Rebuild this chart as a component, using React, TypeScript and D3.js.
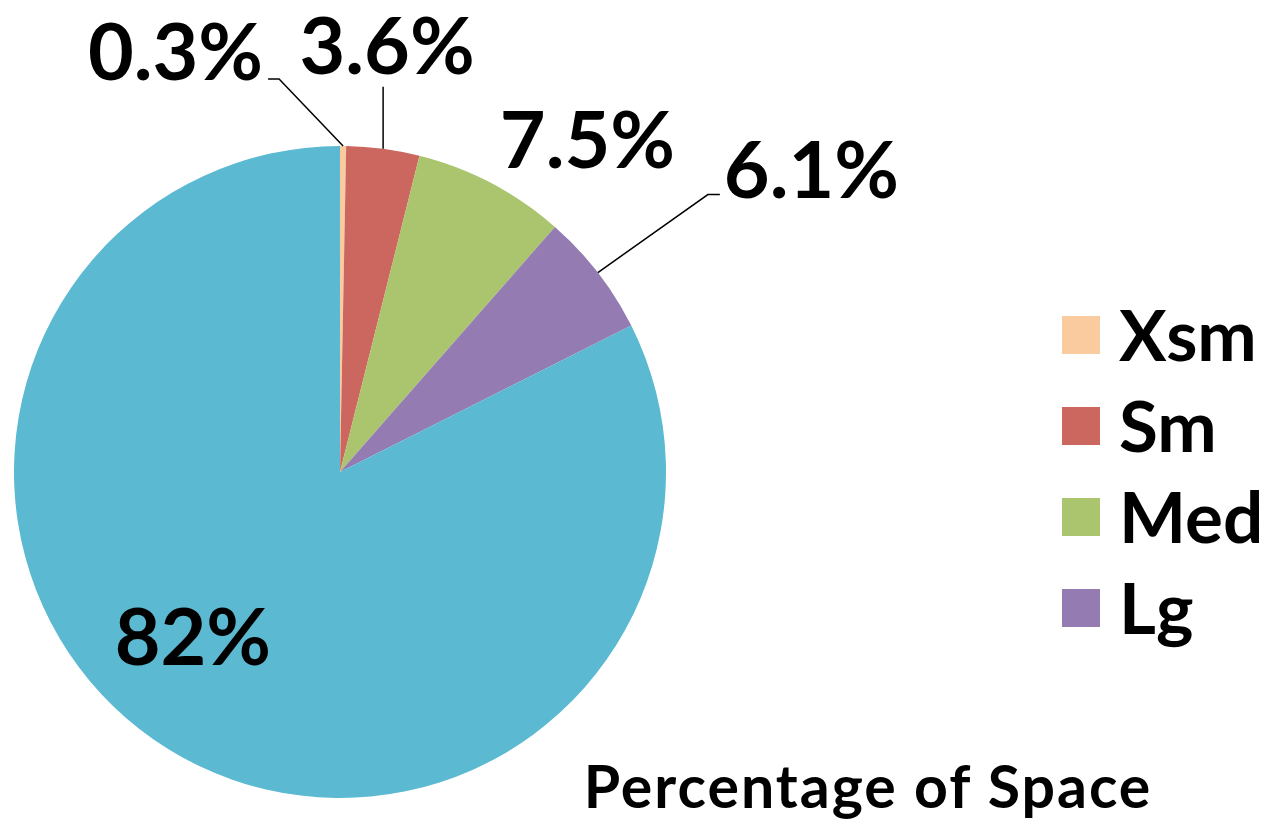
import React, { useEffect, useRef } from 'react';
import * as d3 from 'd3';

// chart data
const categories = ['Xsm', 'Sm', 'Med', 'Lg', 'Xlg'];
const shares = [0.3, 3.6, 7.5, 6.1, 82];
const shareLabels = ['0.3%', '3.6%', '7.5%', '6.1%', '82%'];
const sliceColors = ['#FACB9E', '#CC6760', '#ABC56E', '#947BB1', '#5BB9D2'];
const legendItems = ['Xsm', 'Sm', 'Med', 'Lg'];
const chartTitle = 'Percentage of Space';

const W = 1273;
const H = 822;
const FONT = "Lato, 'Open Sans', sans-serif";

// where each label sits relative to the outer edge point of its slice
// leader: offsets for the connector (none = no connector)
const labelLayout = [
  { dx: -80, dy: -66, anchor: 'end', leader: [[-64, -67], [-75, -67]] },
  { dx: 4, dy: -75, anchor: 'middle', leader: [[0, -62]] },
  { dx: 96, dy: -15, anchor: 'middle' },
  { dx: 126, dy: -75, anchor: 'start', leader: [[110, -78], [122, -78]] },
  { dx: 24, dy: -84, anchor: 'middle' },
];

const PieChart = () => {
  const svgRef = useRef(null);

  useEffect(() => {
    const svg = d3.select(svgRef.current);
    svg.selectAll('*').remove();

    const cx = 340;
    const cy = 472;
    const r = 326;

    const g = svg.append('g').attr('transform', `translate(${cx},${cy})`);

    const pie = d3.pie<number>().sort(null).value(d => d);
    const arcs = pie(shares);
    const arc = d3.arc<any>().innerRadius(0).outerRadius(r);

    g.selectAll('.slice')
      .data(arcs)
      .enter().append('path')
      .attr('class', 'slice')
      .attr('d', arc)
      .attr('fill', (d, i) => sliceColors[i]);

    // labels + leader lines
    arcs.forEach((a, i) => {
      const lay = labelLayout[i];
      const mid = (a.startAngle + a.endAngle) / 2;
      const edgeX = Math.sin(mid) * r;
      const edgeY = -Math.cos(mid) * r;

      if (lay.leader) {
        const pts = [[edgeX, edgeY], ...lay.leader.map(([ox, oy]) => [edgeX + ox, edgeY + oy])];
        g.append('path')
          .attr('d', d3.line()(pts as [number, number][]))
          .attr('fill', 'none')
          .attr('stroke', '#000')
          .attr('stroke-width', 1.5);
      }

      g.append('text')
        .attr('x', edgeX + lay.dx)
        .attr('y', edgeY + lay.dy)
        .attr('text-anchor', lay.anchor)
        .style('font-family', FONT)
        .style('font-weight', 700)
        .style('font-size', '79px')
        .style('fill', '#000')
        .text(shareLabels[i]);
    });

    // legend
    const legendY = d3.scalePoint<string>()
      .domain(legendItems)
      .range([335, 608]);

    const legend = svg.append('g');
    legendItems.forEach(name => {
      const idx = categories.indexOf(name);
      const y = legendY(name);
      legend.append('rect')
        .attr('x', 1062)
        .attr('y', y - 19)
        .attr('width', 38)
        .attr('height', 38)
        .attr('fill', sliceColors[idx]);
      legend.append('text')
        .attr('x', 1119)
        .attr('y', y + 26)
        .style('font-family', FONT)
        .style('font-weight', 700)
        .style('font-size', '71px')
        .style('fill', '#000')
        .text(name);
    });

    // title
    svg.append('text')
      .attr('x', 868)
      .attr('y', 808)
      .attr('text-anchor', 'middle')
      .style('font-family', FONT)
      .style('font-weight', 700)
      .style('font-size', '59px')
      .style('letter-spacing', '2px')
      .style('fill', '#000')
      .text(chartTitle);
  }, []);

  return (
    <svg
      ref={svgRef}
      width={W}
      height={H}
      style={{ position: 'absolute', left: 0, top: 0, background: '#fff' }}
    />
  );
};

export default function App() {
  return <PieChart />;
}
